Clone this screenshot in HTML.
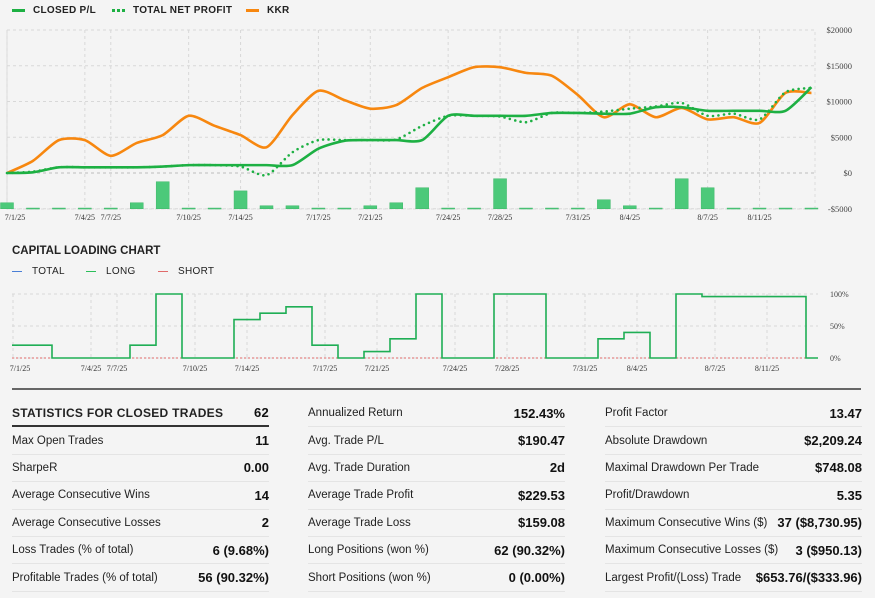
<!DOCTYPE html>
<html><head><meta charset="utf-8">
<style>
body{margin:0;width:875px;height:598px;background:#f4f4f4;font-family:"Liberation Sans","DejaVu Sans",sans-serif;overflow:hidden;position:relative}
svg text{font-family:"Liberation Serif",serif}
.leg{position:absolute;font-size:10px;font-weight:bold;color:#222;letter-spacing:.3px}
.tbl{position:absolute;top:400px;width:257px}
.row{box-sizing:border-box;height:27.4px;border-bottom:1px solid #e4e4e4;display:flex;justify-content:space-between;align-items:center;font-size:11.5px;color:#222}
.row b{font-size:13px;color:#111}
.row.h{border-bottom:2px solid #333;font-weight:bold;font-size:12px;letter-spacing:.3px}
</style></head><body>
<div class="leg" style="left:12px;top:5px"><span style="display:inline-block;width:13px;height:3px;background:#1db043;vertical-align:middle;margin-right:8px"></span>CLOSED P/L</div>
<div class="leg" style="left:112px;top:5px"><span style="display:inline-block;width:13px;border-top:3px dotted #1db043;vertical-align:middle;margin-right:8px"></span>TOTAL NET PROFIT</div>
<div class="leg" style="left:246px;top:5px"><span style="display:inline-block;width:13px;height:3px;background:#f7870f;vertical-align:middle;margin-right:8px"></span>KKR</div>
<div class="leg" style="left:12px;top:245px;font-size:11.5px;letter-spacing:0">CAPITAL LOADING CHART</div>
<div class="leg" style="left:12px;top:266px;font-weight:normal;font-size:10px"><span style="display:inline-block;width:10px;height:1px;background:#4a7fd6;vertical-align:middle;margin-right:10px"></span>TOTAL</div>
<div class="leg" style="left:86px;top:266px;font-weight:normal;font-size:10px"><span style="display:inline-block;width:10px;height:1px;background:#2bbf5a;vertical-align:middle;margin-right:10px"></span>LONG</div>
<div class="leg" style="left:158px;top:266px;font-weight:normal;font-size:10px"><span style="display:inline-block;width:10px;height:1px;background:#e06a6a;vertical-align:middle;margin-right:10px"></span>SHORT</div>
<svg id="main" width="875" height="235" style="position:absolute;left:0;top:0"></svg>
<svg id="cap" width="875" height="140" style="position:absolute;left:0;top:280px"></svg>
<div style="position:absolute;left:12px;top:388px;width:849px;height:2px;background:#666"></div>
<div class="tbl" style="left:12px">
<div class="row h"><span>STATISTICS FOR CLOSED TRADES</span><b>62</b></div>
<div class="row"><span>Max Open Trades</span><b>11</b></div>
<div class="row"><span>SharpeR</span><b>0.00</b></div>
<div class="row"><span>Average Consecutive Wins</span><b>14</b></div>
<div class="row"><span>Average Consecutive Losses</span><b>2</b></div>
<div class="row"><span>Loss Trades (% of total)</span><b>6 (9.68%)</b></div>
<div class="row"><span>Profitable Trades (% of total)</span><b>56 (90.32%)</b></div>
</div>
<div class="tbl" style="left:308px">
<div class="row"><span>Annualized Return</span><b>152.43%</b></div>
<div class="row"><span>Avg. Trade P/L</span><b>$190.47</b></div>
<div class="row"><span>Avg. Trade Duration</span><b>2d</b></div>
<div class="row"><span>Average Trade Profit</span><b>$229.53</b></div>
<div class="row"><span>Average Trade Loss</span><b>$159.08</b></div>
<div class="row"><span>Long Positions (won %)</span><b>62 (90.32%)</b></div>
<div class="row"><span>Short Positions (won %)</span><b>0 (0.00%)</b></div>
</div>
<div class="tbl" style="left:605px">
<div class="row"><span>Profit Factor</span><b>13.47</b></div>
<div class="row"><span>Absolute Drawdown</span><b>$2,209.24</b></div>
<div class="row"><span>Maximal Drawdown Per Trade</span><b>$748.08</b></div>
<div class="row"><span>Profit/Drawdown</span><b>5.35</b></div>
<div class="row"><span>Maximum Consecutive Wins ($)</span><b>37 ($8,730.95)</b></div>
<div class="row"><span>Maximum Consecutive Losses ($)</span><b>3 ($950.13)</b></div>
<div class="row"><span>Largest Profit/(Loss) Trade</span><b>$653.76/($333.96)</b></div>
</div>
<script>
const dateLabels=["7/1/25","7/4/25","7/7/25","7/10/25","7/14/25","7/17/25","7/21/25","7/24/25","7/28/25","7/31/25","8/4/25","8/7/25","8/11/25"];
const dateIdx=[0,3,4,7,9,12,14,17,19,22,24,27,29];
const yTicks=[20000,15000,10000,5000,0,-5000];
const yTickLabels=["$20000","$15000","$10000","$5000","$0","-$5000"];
const kkr=[0,1700,4600,4600,2400,4200,5300,8000,6600,5300,3600,8100,11500,10200,9000,9500,11900,13400,14800,14800,14000,13600,10900,7800,9600,7800,9100,7500,7800,7000,11200,11200];
const closedPL=[0,100,800,800,800,800,900,1100,1100,1100,1100,1100,3400,4500,4600,4600,4600,8000,8000,8000,8000,8400,8400,8300,8300,9200,9200,8700,8700,8700,8700,12000];
const netProfit=[0,200,800,800,800,800,900,1100,1100,900,-300,2900,4600,4600,4600,4700,6600,8000,8000,7900,7100,8400,8400,8600,9000,9300,9800,8000,8300,7500,11300,11900];
const bars=[840,100,100,100,100,840,3780,100,100,2500,420,420,100,100,420,840,2940,100,100,4200,100,100,100,1260,420,100,4200,2940,100,100,100,100];
const capLabels=dateLabels;
const capIdx=dateIdx;
const capTicks=[100,50,0];
const capTickLabels=["100%","50%","0%"];
const longLoad=[20,20,0,0,0,20,100,0,0,60,70,80,20,0,10,30,100,0,0,100,100,0,0,30,40,0,100,96,96,96,96,0];
const NS="http://www.w3.org/2000/svg";
function mk(svg,tag,attrs){const e=document.createElementNS(NS,tag);for(const k in attrs)e.setAttribute(k,attrs[k]);svg.appendChild(e);return e;}
const M=document.getElementById('main');
const X=i=>7+i*25.95;
const Y=v=>173-v*(143/20000);
mk(M,'rect',{x:7,y:30,width:808,height:179,fill:'none',stroke:'#ddd','stroke-dasharray':'3,3'});
yTicks.forEach((t,k)=>{const l=mk(M,'line',{x1:7,x2:815,y1:Y(t),y2:Y(t),stroke:t===0?'#bbb':'#d8d8d8','stroke-dasharray':'3,3'});

const tx=mk(M,'text',{x:852,y:Y(t)+3,'font-size':'8.5','text-anchor':'end',fill:'#444'});tx.textContent=yTickLabels[k];
});
dateIdx.forEach((d,k)=>{const l=mk(M,'line',{x1:X(d),x2:X(d),y1:30,y2:209,stroke:'#d8d8d8','stroke-dasharray':'3,3'});

const tx=mk(M,'text',{x:Math.max(X(d),15),y:220,'font-size':'8','text-anchor':'middle',fill:'#333'});tx.textContent=dateLabels[k];
});
bars.forEach((v,i)=>{const h=Y(-5000)-Y(-5000+v);const r=mk(M,'rect',{x:X(i)-6.5,y:Y(-5000)-h,width:13,height:Math.max(h,1),fill:'#4cc97a',stroke:'#3fb86a','stroke-width':0.5});
});
function smooth(arr){let d='';const p=arr.map((v,i)=>[X(i),Y(v)]);
p.forEach((q,i)=>{if(i===0){d+='M'+q[0]+','+q[1];return;}const p0=p[Math.max(i-2,0)],p1=p[i-1],p2=q,p3=p[Math.min(i+1,p.length-1)];
const c1=[p1[0]+(p2[0]-p0[0])/8,p1[1]+(p2[1]-p0[1])/8],c2=[p2[0]-(p3[0]-p1[0])/8,p2[1]-(p3[1]-p1[1])/8];
d+=` C${c1[0]},${c1[1]} ${c2[0]},${c2[1]} ${p2[0]},${p2[1]}`;});return d;}
const kl=mk(M,'path',{d:smooth(kkr),fill:'none',stroke:'#f7870f','stroke-width':2.6});

const nl=mk(M,'path',{d:smooth(netProfit),fill:'none',stroke:'#1db043','stroke-width':2.6,'stroke-dasharray':'0,5.5','stroke-linecap':'round'});

const cl=mk(M,'path',{d:smooth(closedPL),fill:'none',stroke:'#1db043','stroke-width':2.6});

const C=document.getElementById('cap');
const CY=v=>78-v*0.64;
const CX=i=>i*26+13;
capTicks.forEach((t,k)=>{const l=mk(C,'line',{x1:12,x2:818,y1:CY(t),y2:CY(t),stroke:'#d8d8d8','stroke-dasharray':'3,3'});

const tx=mk(C,'text',{x:830,y:CY(t)+3,'font-size':'8','fill':'#444'});tx.textContent=capTickLabels[k];
});
capIdx.forEach((d,k)=>{const l=mk(C,'line',{x1:Math.max(CX(d),12),x2:Math.max(CX(d),12),y1:14,y2:78,stroke:'#d8d8d8','stroke-dasharray':'3,3'});

const tx=mk(C,'text',{x:Math.max(CX(d),20),y:91,'font-size':'8','text-anchor':'middle',fill:'#333'});tx.textContent=capLabels[k];
});
const sl=mk(C,'line',{x1:12,x2:818,y1:CY(0),y2:CY(0),stroke:'#e06a6a','stroke-width':1,'stroke-dasharray':'2,2'});

let d='';longLoad.forEach((v,i)=>{const x0=Math.max(i*26,12),x1=Math.min((i+1)*26,818);d+=(i===0?'M':'L')+x0+','+CY(v)+' L'+x1+','+CY(v)+' ';});
const ll=mk(C,'path',{d:d,fill:'none',stroke:'#1fae55','stroke-width':1.6});

</script>
</body></html>
